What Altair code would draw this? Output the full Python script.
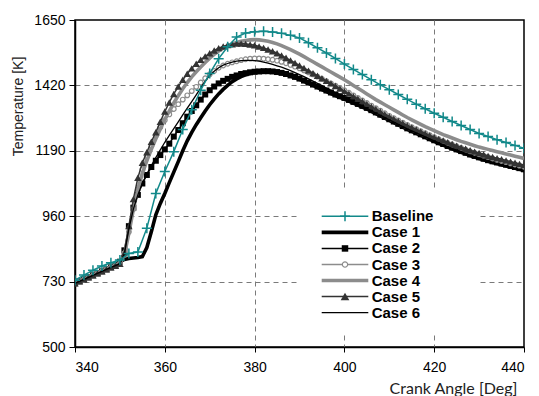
import altair as alt
import pandas as pd

# ---------------- data ----------------
angles_base = list(range(340, 441, 2))
angles_case = list(range(340, 441))

baseline = [735, 753, 770, 785, 796, 806, 829, 834, 918, 1040, 1117, 1187, 1265, 1334, 1403, 1462,
            1514, 1556, 1590, 1604, 1609, 1610, 1608, 1603, 1596, 1587, 1570, 1552, 1534, 1515, 1495,
            1476, 1458, 1440, 1422, 1405, 1388, 1371, 1354, 1338, 1322, 1308, 1293, 1279, 1265, 1251,
            1240, 1229, 1219, 1209, 1199]

early = [724, 731, 738, 745, 752, 759, 766, 773, 780, 786]  # 340..349

case1 = early + [800, 808, 811, 813, 815, 818, 850, 905, 965, 1005,
                 1040, 1078, 1115, 1152, 1190, 1225, 1255, 1282, 1306, 1330,
                 1352, 1372, 1390, 1406, 1420, 1433, 1443, 1451, 1457, 1462,
                 1465, 1467, 1468, 1468, 1467, 1465, 1462, 1458, 1453, 1447,
                 1441, 1434, 1427, 1420, 1413, 1405, 1398, 1391, 1384, 1378,
                 1372, 1365, 1358, 1351, 1344, 1337, 1329, 1321, 1313, 1305,
                 1297, 1289, 1281, 1273, 1265, 1258, 1251, 1244, 1237, 1230,
                 1223, 1216, 1210, 1203, 1197, 1191, 1185, 1179, 1173, 1168,
                 1163, 1158, 1153, 1149, 1145, 1141, 1137, 1133, 1129, 1125,
                 1121]

case2 = early + [800, 840, 925, 990, 1035, 1075, 1105, 1133, 1155, 1175,
                 1195, 1215, 1240, 1263, 1287, 1310, 1330, 1350, 1370, 1388,
                 1403, 1416, 1427, 1436, 1443, 1450, 1455, 1460, 1463, 1466,
                 1468, 1469, 1470, 1470, 1469, 1467, 1464, 1460, 1455, 1450,
                 1444, 1437, 1430, 1423, 1416, 1409, 1402, 1395, 1388, 1382,
                 1376, 1369, 1362, 1355, 1348, 1341, 1333, 1325, 1317, 1309,
                 1301, 1293, 1285, 1277, 1269, 1262, 1255, 1248, 1241, 1234,
                 1227, 1220, 1214, 1207, 1201, 1195, 1189, 1183, 1177, 1172,
                 1167, 1162, 1157, 1153, 1149, 1145, 1141, 1137, 1133, 1129,
                 1125]

case3 = early + [793, 830, 905, 985, 1055, 1125, 1172, 1208, 1243, 1273,
                 1298, 1318, 1337, 1354, 1370, 1385, 1400, 1415, 1430, 1445,
                 1459, 1471, 1482, 1490, 1496, 1501, 1505, 1509, 1512, 1514,
                 1515, 1515, 1514, 1512, 1510, 1507, 1503, 1498, 1492, 1486,
                 1480, 1473, 1466, 1459, 1451, 1443, 1435, 1427, 1419, 1411,
                 1403, 1394, 1385, 1376, 1367, 1358, 1349, 1340, 1331, 1322,
                 1313, 1305, 1297, 1289, 1281, 1273, 1266, 1259, 1252, 1245,
                 1238, 1231, 1224, 1218, 1212, 1206, 1200, 1194, 1188, 1183,
                 1178, 1173, 1168, 1163, 1158, 1154, 1150, 1146, 1142, 1138,
                 1134]

case4 = early + [793, 825, 900, 985, 1055, 1110, 1155, 1195, 1232, 1267,
                 1300, 1330, 1358, 1384, 1408, 1430, 1450, 1468, 1485, 1501,
                 1516, 1529, 1541, 1551, 1559, 1566, 1571, 1575, 1578, 1580,
                 1581, 1580, 1578, 1575, 1571, 1566, 1560, 1553, 1546, 1538,
                 1530, 1521, 1512, 1503, 1494, 1485, 1476, 1467, 1458, 1449,
                 1440, 1430, 1420, 1410, 1400, 1390, 1380, 1370, 1361, 1352,
                 1343, 1334, 1325, 1316, 1307, 1299, 1291, 1283, 1275, 1268,
                 1261, 1254, 1247, 1241, 1235, 1229, 1223, 1218, 1213, 1208,
                 1203, 1199, 1195, 1191, 1187, 1183, 1179, 1175, 1171, 1167,
                 1163]

case5 = early + [793, 830, 925, 1020, 1095, 1148, 1185, 1222, 1255, 1292,
                 1328, 1360, 1390, 1416, 1440, 1461, 1480, 1496, 1510, 1522,
                 1533, 1543, 1551, 1557, 1562, 1565, 1567, 1567, 1566, 1564,
                 1561, 1557, 1552, 1546, 1540, 1533, 1525, 1517, 1508, 1499,
                 1490, 1481, 1472, 1463, 1454, 1445, 1436, 1427, 1418, 1409,
                 1400, 1391, 1382, 1373, 1364, 1355, 1346, 1337, 1328, 1319,
                 1311, 1303, 1295, 1287, 1279, 1272, 1265, 1258, 1251, 1244,
                 1238, 1232, 1226, 1220, 1214, 1208, 1202, 1197, 1192, 1187,
                 1182, 1177, 1172, 1168, 1164, 1160, 1156, 1152, 1148, 1144,
                 1140]

case6 = early + [793, 828, 915, 985, 1035, 1075, 1108, 1138, 1166, 1193,
                 1220, 1244, 1268, 1292, 1316, 1340, 1363, 1387, 1411, 1435,
                 1455, 1470, 1482, 1491, 1497, 1502, 1505, 1507, 1508, 1508,
                 1507, 1505, 1502, 1498, 1494, 1489, 1484, 1478, 1472, 1465,
                 1458, 1451, 1443, 1435, 1427, 1419, 1411, 1403, 1395, 1387,
                 1379, 1371, 1363, 1355, 1347, 1339, 1331, 1323, 1315, 1307,
                 1299, 1291, 1283, 1275, 1267, 1260, 1253, 1246, 1239, 1232,
                 1225, 1218, 1211, 1204, 1198, 1192, 1186, 1180, 1174, 1168,
                 1163, 1158, 1153, 1148, 1143, 1138, 1134, 1130, 1126, 1122,
                 1118]

names = ["Baseline", "Case 1", "Case 2", "Case 3", "Case 4", "Case 5", "Case 6"]
x_ticks = [340, 360, 380, 400, 420, 440]
y_ticks = [500, 730, 960, 1190, 1420, 1650]

series_values = {"Baseline": baseline, "Case 1": case1, "Case 2": case2, "Case 3": case3,
                 "Case 4": case4, "Case 5": case5, "Case 6": case6}
for k, v in series_values.items():
    n = len(angles_base) if k == "Baseline" else len(angles_case)
    assert len(v) == n, (k, len(v), n)

# ---------------- styles ----------------
TEAL = "#12898a"
GRAY = "#8c8c8c"
DARK = "#333333"
PLUS = "M-1,0L1,0M0,-1L0,1"

styles = {
    "Baseline": dict(color=TEAL, width=1.5, marker=dict(shape=PLUS, filled=False, stroke=TEAL, strokeWidth=1.5, size=100)),
    "Case 1": dict(color="black", width=3.6, marker=None),
    "Case 2": dict(color="black", width=1.5, marker=dict(shape="square", filled=True, color="black", size=36)),
    "Case 3": dict(color=GRAY, width=1.5, marker=dict(shape="circle", filled=True, fill="white", stroke=GRAY, strokeWidth=1.2, size=22)),
    "Case 4": dict(color=GRAY, width=3.6, marker=None),
    "Case 5": dict(color=DARK, width=1.5, marker=dict(shape="triangle-up", filled=True, color=DARK, size=55)),
    "Case 6": dict(color="black", width=1.3, marker=None),
}

FONT = "Arial"

x_enc = alt.X("angle:Q",
              scale=alt.Scale(domain=[340, 440], nice=False, zero=False),
              axis=alt.Axis(values=x_ticks, title="Crank Angle [Deg]", format="d",
                            grid=True, gridDash=[5, 4], gridColor="#7a7a7a", gridWidth=1,
                            gridOpacity={"condition": {"test": "datum.value <= 340 || datum.value >= 440", "value": 0}, "value": 1},
                            tickSize=5, tickColor="black", tickWidth=1,
                            domainColor="black", domainWidth=1.5,
                            labelFont=FONT, labelFontSize=14, labelColor="black", labelPadding=8,
                            titleFont="Lato", titleFontSize=16, titleFontWeight="normal", titleColor="#222222",
                            titleAnchor="end", titleAlign="right", titleBaseline="alphabetic",
                            titleX=442, titleY=46))
y_enc = alt.Y("T:Q",
              scale=alt.Scale(domain=[500, 1650], nice=False, zero=False),
              axis=alt.Axis(values=y_ticks, title="Temperature [K]", format="d",
                            grid=True, gridDash=[5, 4], gridColor="#7a7a7a", gridWidth=1,
                            gridOpacity={"condition": {"test": "datum.value <= 500 || datum.value >= 1650", "value": 0}, "value": 1},
                            tickSize=6, tickColor="black", tickWidth=1,
                            domainColor="black", domainWidth=1.5,
                            labelFont=FONT, labelFontSize=14, labelColor="black", labelPadding=4,
                            titleFont=FONT, titleFontSize=14, titleFontWeight="normal", titleColor="#222222",
                            titleAngle=-90, titleAlign="center", titleBaseline="middle",
                            titleX=-57, titleY=86))

draw_order = ["Case 1", "Case 2", "Case 3", "Case 4", "Case 5", "Case 6", "Baseline"]
main_layers = []
for nm in draw_order:
    st = styles[nm]
    ang = angles_base if nm == "Baseline" else angles_case
    df = pd.DataFrame({"angle": ang, "T": series_values[nm]})
    base = alt.Chart(df).encode(x=x_enc, y=y_enc)
    main_layers.append(base.mark_line(color=st["color"], strokeWidth=st["width"], clip=True))
    if st["marker"]:
        main_layers.append(base.mark_point(opacity=1, clip=True, **st["marker"]))

main = alt.layer(*main_layers)

# ---------------- legend (manual) ----------------
leg_df = pd.DataFrame({"name": names})
leg_y = alt.Y("name:N", scale=alt.Scale(domain=names, range=[188.3, 300.7], padding=0), axis=None)

leg_layers = [
    alt.Chart(leg_df).transform_filter(alt.datum.name == "Baseline").mark_rect(color="white").encode(
        x=alt.value(225), x2=alt.value(405), y=alt.value(170), y2=alt.value(313))
]
for nm in names:
    st = styles[nm]
    b = alt.Chart(leg_df).transform_filter(alt.datum.name == nm)
    leg_layers.append(b.mark_rule(color=st["color"], strokeWidth=st["width"]).encode(
        x=alt.value(246.7), x2=alt.value(293.3), y=leg_y))
    if st["marker"]:
        mk = dict(st["marker"])
        if nm == "Case 5":
            mk["size"] = 75
        if nm == "Case 2":
            mk["size"] = 42
        if nm == "Case 3":
            mk["size"] = 28
        leg_layers.append(b.mark_point(opacity=1, **mk).encode(x=alt.value(270), y=leg_y))
leg_layers.append(alt.Chart(leg_df).mark_text(align="left", baseline="middle", font=FONT,
                                              fontSize=15, fontWeight="bold", color="black").encode(
    x=alt.value(296.7), y=leg_y, text="name:N"))

legend = alt.layer(*leg_layers)

chart = alt.layer(main, legend).resolve_scale(y="independent").properties(
    width=449, height=327,
    autosize=alt.AutoSizeParams(type="none"),
    padding={"left": 67, "top": 12, "right": 7, "bottom": 49},
).configure(font=FONT).configure_view(stroke="black", strokeWidth=1.5)

chart.save("out.html", embed_options={"renderer": "svg", "actions": False})
